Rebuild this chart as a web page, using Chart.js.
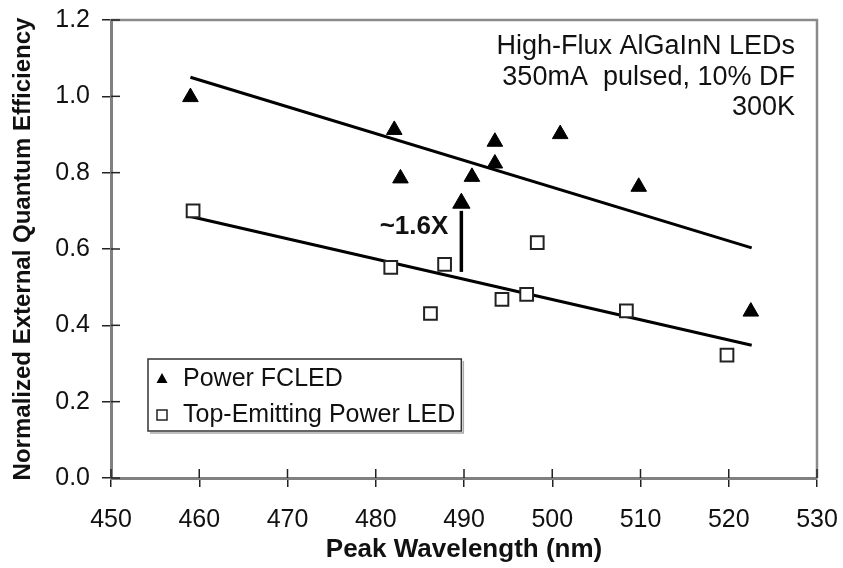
<!DOCTYPE html>
<html>
<head>
<meta charset="utf-8">
<script src="https://cdn.jsdelivr.net/npm/chart.js@4.4.1/dist/chart.umd.min.js"></script>
<style>
  html, body { margin: 0; padding: 0; background: #fff; }
  #wrap { width: 843px; height: 568px; position: relative; }
</style>
</head>
<body>
<div id="wrap"><canvas id="eqeChart"></canvas></div>
<script>
// values
const fcledWavelength = [459, 482.1, 482.8, 490.9, 493.5, 493.5, 500.9, 509.8, 522.5];
const fcledEqe = [0.998, 0.912, 0.785, 0.789, 0.881, 0.824, 0.901, 0.763, 0.436];

const topWavelength = [459.3, 481.7, 486.2, 487.8, 494.3, 497.1, 498.3, 508.4, 519.8];
const topEqe = [0.70, 0.552, 0.431, 0.560, 0.468, 0.481, 0.617, 0.438, 0.322];

// linear fits drawn on the figure (end points)
const fitWavelength = [459, 522.6];
const fcledFit = [1.05, 0.603];
const topFit = [0.685, 0.348];

// the "~1.6X" arrow
const arrowWavelength = 489.7;
const arrowShaft = [0.54, 0.70];
const arrowHead = 0.72;
const arrowLabel = "~1.6X";
const arrowLabelEqe = 0.658;

const xTicks = [450, 460, 470, 480, 490, 500, 510, 520, 530];
const yTicks = [0.0, 0.2, 0.4, 0.6, 0.8, 1.0, 1.2];

const noteLines = ["High-Flux AlGaInN LEDs", "350mA  pulsed, 10% DF", "300K"];

const FONT = "'Liberation Sans', Arial, sans-serif";
Chart.defaults.font.family = FONT;
Chart.defaults.color = "#111";

function toPoints(xs, ys) {
  return xs.map((x, i) => ({ x: x, y: ys[i] }));
}

// top/right frame plus the inner half of every tick mark
const frameAndTicks = {
  id: "frameAndTicks",
  afterDraw(chart) {
    const { ctx, chartArea: a, scales } = chart;
    ctx.save();
    ctx.strokeStyle = "#8a8a8a";
    ctx.lineWidth = 2.5;
    ctx.beginPath();
    ctx.moveTo(a.left, a.top);
    ctx.lineTo(a.right, a.top);
    ctx.lineTo(a.right, a.bottom);
    ctx.stroke();

    ctx.strokeStyle = "#222";
    ctx.lineWidth = 1.5;
    scales.x.ticks.forEach((t) => {
      const px = scales.x.getPixelForValue(t.value);
      ctx.beginPath();
      ctx.moveTo(px, a.bottom);
      ctx.lineTo(px, a.bottom - 9);
      ctx.stroke();
    });
    scales.y.ticks.forEach((t) => {
      const py = scales.y.getPixelForValue(t.value);
      ctx.beginPath();
      ctx.moveTo(a.left, py);
      ctx.lineTo(a.left + 9, py);
      ctx.stroke();
    });
    ctx.restore();
  },
};

// text annotations: conditions block and the arrow label
const notes = {
  id: "notes",
  afterDraw(chart) {
    const { ctx, chartArea: a, scales } = chart;
    ctx.save();
    ctx.fillStyle = "#111";
    ctx.textAlign = "right";
    ctx.textBaseline = "middle";
    ctx.font = "27px " + FONT;
    noteLines.forEach((line, i) => {
      ctx.fillText(line, a.right - 22, a.top + 27 + i * 30.5);
    });

    ctx.font = "bold 26px " + FONT;
    ctx.fillText(
      arrowLabel,
      scales.x.getPixelForValue(arrowWavelength) - 13,
      scales.y.getPixelForValue(arrowLabelEqe)
    );
    ctx.restore();
  },
};

// boxed legend in the lower-left corner of the plot
const boxLegend = {
  id: "boxLegend",
  afterDraw(chart) {
    const { ctx, chartArea: a } = chart;
    const items = chart.data.datasets.filter((d) => d.label);
    const left = a.left + 37;
    const bottom = a.bottom - 47;
    const rowH = 36;
    const top = bottom - rowH * items.length;
    ctx.save();
    ctx.font = "25px " + FONT;
    let maxW = 0;
    items.forEach((d) => (maxW = Math.max(maxW, ctx.measureText(d.label).width)));
    const right = left + 35 + maxW + 6;

    ctx.fillStyle = "#fff";
    ctx.fillRect(left, top, right - left, bottom - top);
    ctx.strokeStyle = "#333";
    ctx.lineWidth = 1.5;
    ctx.strokeRect(left, top, right - left, bottom - top);
    ctx.strokeStyle = "#aaa";
    ctx.beginPath();
    ctx.moveTo(left + 2, bottom + 2);
    ctx.lineTo(right + 2, bottom + 2);
    ctx.lineTo(right + 2, top + 2);
    ctx.stroke();

    items.forEach((d, i) => {
      const cy = top + rowH / 2 + i * rowH + 2;
      const mx = left + 14;
      if (d.pointStyle === "triangle") {
        ctx.fillStyle = "#000";
        ctx.beginPath();
        ctx.moveTo(mx, cy - 6);
        ctx.lineTo(mx + 5.5, cy + 4);
        ctx.lineTo(mx - 5.5, cy + 4);
        ctx.closePath();
        ctx.fill();
      } else {
        ctx.strokeStyle = "#222";
        ctx.lineWidth = 1.5;
        ctx.strokeRect(mx - 5, cy - 5, 10, 10);
      }
      ctx.fillStyle = "#111";
      ctx.textAlign = "left";
      ctx.textBaseline = "middle";
      ctx.fillText(d.label, left + 35, cy);
    });
    ctx.restore();
  },
};

const axisGrid = {
  drawOnChartArea: false,
  drawTicks: true,
  tickLength: 9,
  color: "#222",
  lineWidth: 1.5,
};
const axisBorder = { display: true, color: "#808080", width: 3 };

new Chart(document.getElementById("eqeChart"), {
  type: "scatter",
  data: {
    datasets: [
      {
        label: "Power FCLED",
        data: toPoints(fcledWavelength, fcledEqe),
        pointStyle: "triangle",
        pointRadius: 9,
        backgroundColor: "#000",
        borderColor: "#000",
        borderWidth: 1,
        order: 0,
      },
      {
        label: "Top-Emitting Power LED",
        data: toPoints(topWavelength, topEqe),
        pointStyle: "rect",
        pointRadius: 9,
        backgroundColor: "#fff",
        borderColor: "#222",
        borderWidth: 2,
        order: 0,
      },
      {
        data: toPoints(fitWavelength, fcledFit),
        showLine: true,
        pointRadius: 0,
        borderColor: "#000",
        borderWidth: 3,
        order: 2,
      },
      {
        data: toPoints(fitWavelength, topFit),
        showLine: true,
        pointRadius: 0,
        borderColor: "#000",
        borderWidth: 3,
        order: 2,
      },
      {
        data: toPoints([arrowWavelength, arrowWavelength], arrowShaft),
        showLine: true,
        pointRadius: 0,
        borderColor: "#000",
        borderWidth: 3.5,
        order: 1,
      },
      {
        data: toPoints([arrowWavelength], [arrowHead]),
        pointStyle: "triangle",
        pointRadius: 10,
        backgroundColor: "#000",
        borderColor: "#000",
        borderWidth: 1,
        order: 1,
      },
    ],
  },
  options: {
    responsive: true,
    maintainAspectRatio: false,
    animation: false,
    layout: { padding: { top: 20, right: 26, left: 0, bottom: 0 } },
    plugins: {
      legend: { display: false },
      tooltip: { enabled: false },
    },
    scales: {
      x: {
        type: "linear",
        min: 450,
        max: 530,
        afterBuildTicks: (s) => (s.ticks = xTicks.map((v) => ({ value: v }))),
        ticks: {
          font: { size: 25 },
          color: "#111",
          padding: 18,
          maxRotation: 0,
        },
        grid: axisGrid,
        border: axisBorder,
        title: {
          display: true,
          text: "Peak Wavelength (nm)",
          font: { size: 26, weight: "bold" },
          color: "#111",
          padding: { top: 0, bottom: 3 },
        },
        afterFit: (s) => {
          s.height = 90;
          s.paddingLeft = 0;
          s.paddingRight = 0;
        },
      },
      y: {
        type: "linear",
        min: 0,
        max: 1.2,
        afterBuildTicks: (s) => (s.ticks = yTicks.map((v) => ({ value: v }))),
        ticks: {
          font: { size: 25 },
          color: "#111",
          padding: 12,
          callback: (v) => Number(v).toFixed(1),
        },
        grid: axisGrid,
        border: axisBorder,
        title: {
          display: true,
          text: "Normalized External Quantum Efficiency",
          font: { size: 24, weight: "bold" },
          color: "#111",
          padding: { top: 9, bottom: 0 },
        },
        afterFit: (s) => {
          s.width = 111;
          s.paddingTop = 0;
          s.paddingBottom = 0;
        },
      },
    },
  },
  plugins: [frameAndTicks, notes, boxLegend],
});
</script>
</body>
</html>
